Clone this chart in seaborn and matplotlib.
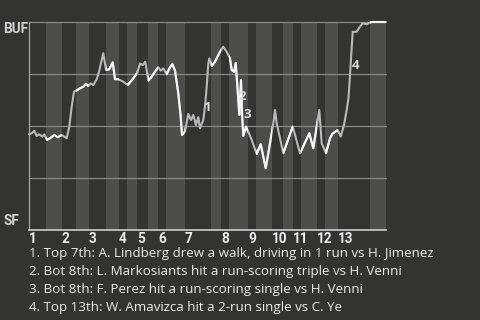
import matplotlib
matplotlib.use("Agg")
import matplotlib.pyplot as plt
from matplotlib.patches import Rectangle
import seaborn as sns
import pandas as pd

# ---- data (game progress units, BUF win probability) ----
progress = [
    0, 2.7, 5.3, 7.7, 10.3, 13.3, 15.3, 17.7, 21, 25.3,
    28.7, 32.7, 37.7, 40.3, 42.7, 45, 48.3, 51, 54.3, 57,
    59.3, 61.7, 64.3, 67.7, 70, 72.7, 74.3, 77, 80.3, 83.7,
    86, 89.3, 94.3, 98.7, 104.3, 108.3, 111, 113.7, 116.3, 119.3,
    122.7, 126, 129.3, 131.7, 134.3, 137.7, 141, 143.3, 146, 149.3,
    151.7, 153, 156, 159.3, 162, 164.3, 167, 169.3, 171, 174.3,
    176, 177.7, 179.3, 180.3, 182.7, 186, 191, 194.3, 197.7, 201,
    202.7, 205, 206.7, 207.7, 209.3, 210.3, 212, 213, 214.3, 217,
    219.3, 222.7, 227.7, 231.7, 236.7, 241, 244.3, 246, 247.7, 254.3,
    263.7, 271, 280.3, 284.3, 290.3, 292.7, 297, 301, 303.3, 308.7,
    311.7, 315, 317.7, 319.5, 321, 323.7, 327.7, 330.3, 333.7, 337.7,
    340.3, 343, 357,
]
buf_wp = [
    0.460, 0.465, 0.477, 0.452, 0.460, 0.449, 0.460, 0.433, 0.441, 0.457,
    0.446, 0.457, 0.441, 0.497, 0.593, 0.665, 0.673, 0.681, 0.689, 0.702,
    0.692, 0.705, 0.697, 0.725, 0.761, 0.817, 0.850, 0.769, 0.773, 0.806,
    0.725, 0.725, 0.713, 0.697, 0.729, 0.756, 0.801, 0.793, 0.809, 0.718,
    0.737, 0.761, 0.782, 0.766, 0.777, 0.749, 0.782, 0.798, 0.766, 0.657,
    0.545, 0.457, 0.473, 0.558, 0.529, 0.553, 0.505, 0.543, 0.489, 0.529,
    0.593, 0.689, 0.801, 0.825, 0.788, 0.809, 0.857, 0.881, 0.857, 0.825,
    0.769, 0.761, 0.803, 0.737, 0.625, 0.553, 0.721, 0.563, 0.452, 0.497,
    0.473, 0.433, 0.365, 0.413, 0.297, 0.417, 0.513, 0.577, 0.513, 0.369,
    0.497, 0.369, 0.465, 0.393, 0.577, 0.417, 0.369, 0.441, 0.462, 0.481,
    0.449, 0.505, 0.577, 0.635, 0.745, 0.953, 0.953, 0.973, 0.994, 0.989,
    0.997, 1.000, 1.000,
]
# start of each half inning (top, bottom, top, ...), plus game end
half_starts = [0, 17, 33, 47, 60, 77, 90, 98, 108, 119, 129, 137, 156,
               182, 192, 200, 219, 227, 243, 254, 264, 272, 288, 296, 309, 341]
game_end = 357
inning_labels = [str(i) for i in range(1, 14)]

event_marks = ["1", "2", "3", "4"]
event_x = [178, 213, 218, 327]
event_y = [0.587, 0.644, 0.553, 0.793]
event_texts = [
    "1. Top 7th: A. Lindberg drew a walk, driving in 1 run vs H. Jimenez",
    "2. Bot 8th: L. Markosiants hit a run-scoring triple vs H. Venni",
    "3. Bot 8th: F. Perez hit a run-scoring single vs H. Venni",
    "4. Top 13th: W. Amavizca hit a 2-run single vs C. Ye",
]
team_top, team_bottom = "BUF", "SF"

# ---- style ----
BG = "#353330"
BAND = "#4e4d4a"
GRID = "#8a8986"
TOP_COL = "#b9b9b9"
BOT_COL = "#f5f5f5"
TXT = "#ececec"
BOLD_FONT = ["Roboto", "DejaVu Sans"]
NOTE_FONT = ["Open Sans", "DejaVu Sans"]

sns.set_theme(style="dark")
plt.rcParams["font.family"] = BOLD_FONT

fig = plt.figure(figsize=(4.8, 3.2), dpi=100, facecolor=BG)
ax = fig.add_axes([29 / 480, 1 - 230 / 320, 357 / 480, 208 / 320])
ax.set_facecolor(BG)

bounds = half_starts + [game_end]
bottom_halves = [(bounds[i], bounds[i + 1]) for i in range(1, len(half_starts), 2)]
for a, b in bottom_halves:
    ax.axvspan(a, b, color=BAND, lw=0, zorder=0)

for yv in [0.25, 0.5, 0.75, 1.0]:
    ax.axhline(yv, color=GRID, lw=0.9, zorder=1, clip_on=False)

df = pd.DataFrame({"progress": progress, "wp": buf_wp})
sns.lineplot(data=df, x="progress", y="wp", ax=ax, color=TOP_COL, lw=1.5,
             zorder=3, estimator=None, sort=False)
ax.lines[-1].set_clip_on(False)
for a, b in bottom_halves:
    sns.lineplot(data=df, x="progress", y="wp", ax=ax, color=BOT_COL, lw=1.5,
                 zorder=4, estimator=None, sort=False)
    ln = ax.lines[-1]
    rect = Rectangle((a, -0.2), b - a, 1.4, transform=ax.transData)
    ln.set_clip_path(rect)

for m, x, y in zip(event_marks, event_x, event_y):
    ax.text(x, y, m, color="#dcdcdc", fontsize=9.5, fontweight="bold",
            family=NOTE_FONT, ha="center", va="center", zorder=5)

ax.set_xlim(0, game_end)
ax.set_ylim(0, 1)
ax.set_xlabel("")
ax.set_ylabel("")
ax.set_yticks([])
inning_starts = half_starts[0::2]
ax.set_xticks(inning_starts)
ax.set_xticklabels(inning_labels)
ax.tick_params(axis="x", length=0, pad=1.5, colors=TXT, labelsize=9.8)
for lab in ax.get_xticklabels():
    lab.set_ha("left")
    lab.set_fontweight("bold")
ax.grid(False)
for s in ["top", "right"]:
    ax.spines[s].set_visible(False)
ax.spines["left"].set_color("#a9a8a6")
ax.spines["left"].set_linewidth(0.9)
ax.spines["bottom"].set_color("#cfcfcf")
ax.spines["bottom"].set_linewidth(1.2)
ax.spines["bottom"].set_zorder(6)

fig.text(3 / 480, 1 - 29 / 320, team_top, color="#d2d2d2", fontsize=9.8,
         fontweight="bold", ha="left", va="center")
fig.text(3 / 480, 1 - 221 / 320, team_bottom, color="#d2d2d2", fontsize=9.8,
         fontweight="bold", ha="left", va="center")

for i, t in enumerate(event_texts):
    fig.text(29 / 480, 1 - (254 + 18 * i) / 320, t, color=TXT, fontsize=9.6,
             family=NOTE_FONT, ha="left", va="center")

fig.savefig("out.png", dpi=100, facecolor=BG)
